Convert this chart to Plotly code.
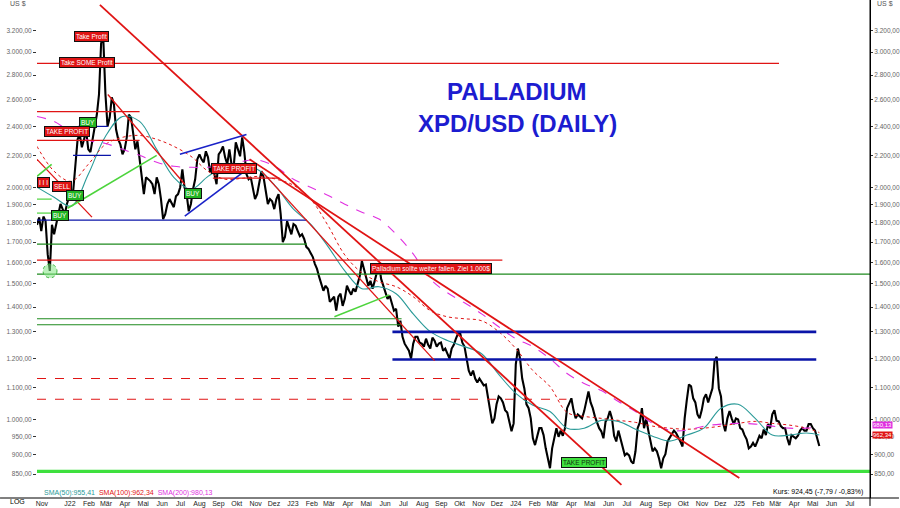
import plotly.graph_objects as go
import pandas as pd

# ---------------- data ----------------
START = "2021-11-16"
END = "2025-08-11"

# palladium price (US$) at the start of each week
PRICE_WEEK = [1790, 1757, 1810, 1560, 1740, 1848, 1876, 1905, 1933, 2145,
              2345, 2311, 2243, 2311, 2489, 3080, 2650, 2466, 2564, 2311,
              2210, 2325, 2466, 2243, 2177, 1962, 2051, 2021, 2063, 1933,
              1848, 1933, 1887, 1962, 2113, 1962, 1905, 2051, 2210, 2158,
              2190, 2145, 2021, 2230, 2190, 2243, 2126, 2243, 2325, 2082,
              2063, 1933, 2021, 2063, 1905, 1921, 1933, 1848, 1726, 1778,
              1794, 1757, 1740, 1676, 1646, 1593, 1532, 1470, 1479, 1435,
              1385, 1457, 1435, 1470, 1479, 1501, 1607, 1523, 1514, 1514,
              1593, 1492, 1435, 1414, 1393, 1344, 1255, 1229, 1255, 1281,
              1255, 1274, 1237, 1266, 1255, 1229, 1218, 1237, 1274, 1294,
              1244, 1158, 1158, 1118, 1121, 1111, 1029, 1004, 1072, 1053,
              1022, 966, 1180, 1200, 1098, 1035, 946, 953, 975, 918,
              865, 946, 950, 953, 1035, 1066, 1004, 1010, 1026, 1088,
              1035, 991, 966, 994, 1026, 953, 968, 918, 904, 883,
              910, 991, 975, 968, 910, 910, 865, 902, 946, 968,
              950, 923, 1060, 1105, 1053, 1004, 1066, 1053, 1098, 1207,
              1072, 966, 1026, 987, 1001, 971, 943, 923, 923, 953,
              971, 987, 1016, 997, 981, 975, 927, 950, 953, 975,
              968, 987, 968, 924.45]

# price read in the middle of each week
PRICE_MID = [1830, 1835, 1640, 1790, 1800, 1905, 1848, 1944, 1991, 2311,
             2257, 2366, 2224, 2394, 2642, 3130, 2402, 2620, 2380, 2276,
             2243, 2489, 2352, 2297, 2082, 2063, 2040, 1962, 2021, 1821,
             1905, 1905, 1950, 2003, 2003, 1864, 1991, 2177, 2177, 2230,
             2094, 2082, 2210, 2263, 2145, 2145, 2290, 2197, 2224, 2051,
             1991, 1962, 2101, 1979, 1933, 1876, 1962, 1700, 1810, 1740,
             1785, 1730, 1716, 1666, 1627, 1569, 1501, 1492, 1422, 1444,
             1444, 1405, 1492, 1453, 1466, 1536, 1569, 1492, 1479, 1560,
             1523, 1457, 1448, 1385, 1321, 1281, 1244, 1200, 1281, 1259,
             1244, 1251, 1278, 1244, 1259, 1237, 1200, 1251, 1294, 1259,
             1193, 1141, 1131, 1131, 1108, 1066, 989, 1047, 1066, 1029,
             995, 989, 1237, 1131, 1047, 1004, 927, 975, 955, 886,
             918, 975, 968, 975, 1053, 1029, 1016, 1004, 1060, 1053,
             1010, 975, 946, 1004, 1004, 937, 946, 899, 899, 877,
             975, 1035, 1004, 937, 918, 891, 891, 937, 955, 961,
             937, 1004, 1111, 1066, 1016, 1029, 1079, 1079, 1193, 1098,
             989, 1004, 1004, 1004, 975, 955, 918, 933, 937, 946,
             955, 975, 1029, 995, 975, 946, 955, 946, 968, 968,
             987, 975, 946]

# moving averages, read every 4th week (+ last value)
SMA50 = [2003, 1944, 1893, 2082, 2331, 2474, 2438, 2243, 2063, 1991,
         2069, 2132, 2145, 2106, 2003, 1876, 1794, 1680, 1560, 1479,
         1488, 1457, 1372, 1301, 1267, 1244, 1218, 1145, 1082, 1044,
         1025, 975, 975, 998, 995, 972, 952, 938, 955, 975,
         1035, 1047, 1004, 955, 955, 961, 955.41]
SMA100 = [2263, 2101, 2039, 2145, 2276, 2325, 2338, 2311, 2263, 2197,
          2101, 2051, 2057, 2069, 2051, 2015, 1933, 1789, 1636, 1551,
          1510, 1488, 1444, 1385, 1360, 1352, 1344, 1301, 1237, 1158,
          1104, 1022, 1010, 1004, 998, 992, 981, 975, 972, 975,
          981, 989, 995, 989, 984, 975, 962.34]
SMA200 = [2474, 2438, 2359, 2304, 2283, 2243, 2203, 2158, 2132, 2126,
          2126, 2139, 2164, 2171, 2126, 2051, 2003, 1956, 1904, 1859,
          1821, 1741, 1641, 1523, 1461, 1418, 1372, 1320, 1274, 1244,
          1200, 1148, 1114, 1091, 1056, 1025, 989, 969, 969, 981,
          987, 989, 987, 981, 975, 975, 980.13]

# horizontal levels
RED_LEVELS = [2900, 2511, 2304, 2058, 1611]
RED_FROM = [START, START, START, "2022-08-31", START]
RED_TO = ["2025-03-15", "2022-05-03", "2022-05-03", "2022-12-18", "2023-12-18"]

RED_DASH_LEVELS = [1131, 1063]
RED_DASH_FROM = [START, START]
RED_DASH_TO = ["2023-10-09", "2024-04-01"]

BLUE_LEVELS = [2402, 2203, 1815]
BLUE_FROM = ["2022-01-22", "2022-01-14", START]
BLUE_TO = ["2022-03-12", "2022-03-17", "2023-02-01"]

BLUE_RANGE_LEVELS = [1300, 1197]
BLUE_RANGE_FROM = ["2023-06-21", "2023-06-21"]
BLUE_RANGE_TO = ["2025-05-15", "2025-05-15"]

GREEN_LEVELS = [1690, 1545, 1352, 1328]
GREEN_FROM = [START, START, START, START]
GREEN_TO = ["2023-02-01", END, "2023-07-06", "2023-07-06"]

LIME_LEVELS = [1933, 1854]
LIME_FROM = [START, START]
LIME_TO = ["2021-12-10", "2021-12-10"]

SUPPORT_LEVEL = 857

# trend lines (start date, start price, end date, end price)
RED_TREND_X0 = ["2022-02-27", "2022-10-30", "2022-11-19", "2022-03-12", START]
RED_TREND_Y0 = [3453, 2177, 2100, 2642, 2177]
RED_TREND_X1 = ["2024-06-30", "2025-01-09", "2023-08-29", "2022-07-16", "2022-02-14"]
RED_TREND_Y1 = [823, 840, 1193, 2021, 1832]

LIME_TREND_X0 = [START, "2022-01-05", "2023-03-18"]
LIME_TREND_Y0 = [2069, 1881, 1360]
LIME_TREND_X1 = ["2021-12-10", "2022-05-31", "2023-06-16"]
LIME_TREND_Y1 = [2145, 2203, 1452]

BLUE_TREND_X0 = ["2022-07-08", "2022-07-16"]
BLUE_TREND_Y0 = [2210, 1837]
BLUE_TREND_X1 = ["2022-10-25", "2022-10-22"]
BLUE_TREND_Y1 = [2345, 2101]

Y_TICKS = [850, 900, 950, 1000, 1100, 1200, 1300, 1400, 1500, 1600,
           1700, 1800, 1900, 2000, 2200, 2400, 2600, 2800, 3000, 3200]
Y_TICK_TEXT = ["850,00", "900,00", "950,00", "1.000,00", "1.100,00", "1.200,00",
               "1.300,00", "1.400,00", "1.500,00", "1.600,00", "1.700,00",
               "1.800,00", "1.900,00", "2.000,00", "2.200,00", "2.400,00",
               "2.600,00", "2.800,00", "3.000,00", "3.200,00"]

MONTH_STARTS = ["2021-11-16",
                "2022-01-01", "2022-02-01", "2022-03-01", "2022-04-01", "2022-05-01", "2022-06-01",
                "2022-07-01", "2022-08-01", "2022-09-01", "2022-10-01", "2022-11-01", "2022-12-01",
                "2023-01-01", "2023-02-01", "2023-03-01", "2023-04-01", "2023-05-01", "2023-06-01",
                "2023-07-01", "2023-08-01", "2023-09-01", "2023-10-01", "2023-11-01", "2023-12-01",
                "2024-01-01", "2024-02-01", "2024-03-01", "2024-04-01", "2024-05-01", "2024-06-01",
                "2024-07-01", "2024-08-01", "2024-09-01", "2024-10-01", "2024-11-01", "2024-12-01",
                "2025-01-01", "2025-02-01", "2025-03-01", "2025-04-01", "2025-05-01", "2025-06-01",
                "2025-07-01"]
MONTH_LABELS = ["Nov",
                "J22", "Feb", "Mär", "Apr", "Mai", "Jun", "Jul", "Aug", "Sep", "Okt", "Nov", "Dez",
                "J23", "Feb", "Mär", "Apr", "Mai", "Jun", "Jul", "Aug", "Sep", "Okt", "Nov", "Dez",
                "J24", "Feb", "Mär", "Apr", "Mai", "Jun", "Jul", "Aug", "Sep", "Okt", "Nov", "Dez",
                "J25", "Feb", "Mär", "Apr", "Mai", "Jun", "Jul"]

# ---------------- styling ----------------
FONT = "Liberation Sans, Arial, sans-serif"
RED = "#e01414"
BLUE = "#1a22c8"
NAVY = "#0a14a8"
DKGREEN = "#1e8a1e"
LIME = "#4cd43c"
TEAL = "#2a9a98"
MAGENTA = "#e030e0"

L, R, T, B = 37, 29, 0, 8
W, H = 900, 508
PW, PH = W - L - R, H - T - B


def px(x):
    return (x - L) / PW


def py(y):
    return 1 - (y - T) / PH


week_dates = pd.date_range(START, periods=len(PRICE_WEEK), freq="7D")
mid_dates = week_dates[:len(PRICE_MID)] + pd.Timedelta(hours=84)
px_dates, px_vals = [], []
for i, d in enumerate(week_dates):
    px_dates.append(d)
    px_vals.append(PRICE_WEEK[i])
    if i < len(PRICE_MID):
        px_dates.append(mid_dates[i])
        px_vals.append(PRICE_MID[i])

ma_dates = list(week_dates[0:181:4]) + [week_dates[-1]]

fig = go.Figure()


def seg(x0, x1, y0, y1, color, width, dash="solid"):
    fig.add_trace(go.Scatter(x=[x0, x1], y=[y0, y1], mode="lines",
                             line=dict(color=color, width=width, dash=dash),
                             hoverinfo="skip", showlegend=False))


# price
fig.add_trace(go.Scatter(x=px_dates, y=px_vals, mode="lines",
                         line=dict(color="black", width=2.1), showlegend=False))

# moving averages
fig.add_trace(go.Scatter(x=ma_dates, y=SMA50, mode="lines", line_shape="spline",
                         line=dict(color=TEAL, width=1.1), showlegend=False))
fig.add_trace(go.Scatter(x=ma_dates, y=SMA100, mode="lines", line_shape="spline",
                         line=dict(color=RED, width=1, dash="dot"), showlegend=False))
fig.add_trace(go.Scatter(x=ma_dates, y=SMA200, mode="lines", line_shape="spline",
                         line=dict(color=MAGENTA, width=1.1, dash="dash"), showlegend=False))

# levels
for v, a, b in zip(RED_LEVELS, RED_FROM, RED_TO):
    seg(a, b, v, v, RED, 1.2)
for v, a, b in zip(RED_DASH_LEVELS, RED_DASH_FROM, RED_DASH_TO):
    seg(a, b, v, v, RED, 1, "dash")
for v, a, b in zip(BLUE_LEVELS, BLUE_FROM, BLUE_TO):
    seg(a, b, v, v, NAVY, 1.2)
for v, a, b in zip(BLUE_RANGE_LEVELS, BLUE_RANGE_FROM, BLUE_RANGE_TO):
    seg(a, b, v, v, NAVY, 2.6)
for v, a, b in zip(GREEN_LEVELS, GREEN_FROM, GREEN_TO):
    seg(a, b, v, v, DKGREEN, 1.2)
for v, a, b in zip(LIME_LEVELS, LIME_FROM, LIME_TO):
    seg(a, b, v, v, LIME, 1.2)
seg(START, END, SUPPORT_LEVEL, SUPPORT_LEVEL, "#3ee03e", 3.2)

# trend lines
for i, (a, ya, b, yb) in enumerate(zip(RED_TREND_X0, RED_TREND_Y0, RED_TREND_X1, RED_TREND_Y1)):
    seg(a, b, ya, yb, RED, 1.8 if i < 2 else 1.3)
for a, ya, b, yb in zip(LIME_TREND_X0, LIME_TREND_Y0, LIME_TREND_X1, LIME_TREND_Y1):
    seg(a, b, ya, yb, LIME, 1.6)
for a, ya, b, yb in zip(BLUE_TREND_X0, BLUE_TREND_Y0, BLUE_TREND_X1, BLUE_TREND_Y1):
    seg(a, b, ya, yb, BLUE, 1.6)

# dummy trace for right axis
fig.add_trace(go.Scatter(x=[week_dates[-1]], y=[PRICE_WEEK[-1]], yaxis="y2", mode="markers",
                         marker=dict(opacity=0), hoverinfo="skip", showlegend=False))

YR = [2.8984, 3.5446]
tick_dates = [pd.Timestamp(d) + pd.Timedelta(days=8) for d in MONTH_STARTS]

fig.update_layout(
    width=W, height=H, margin=dict(l=L, r=R, t=T, b=B, pad=0),
    plot_bgcolor="white", paper_bgcolor="white", showlegend=False,
    font=dict(family=FONT, size=7, color="black"),
    xaxis=dict(type="date", range=[START, END], tickvals=tick_dates, ticktext=MONTH_LABELS,
               showgrid=False, zeroline=False, showline=False, ticks="",
               tickfont=dict(size=7, color="#222"), tickangle=0),
    yaxis=dict(type="log", range=YR, tickvals=Y_TICKS, ticktext=Y_TICK_TEXT,
               showgrid=False, zeroline=False, showline=False, ticks="outside",
               ticklen=3, tickcolor="#333", tickfont=dict(size=6.5, color="#666")),
    yaxis2=dict(type="log", range=YR, tickvals=Y_TICKS, ticktext=Y_TICK_TEXT,
                overlaying="y", side="right", showgrid=False, zeroline=False,
                showline=True, linecolor="black", linewidth=1, ticks="outside",
                ticklen=2, tickcolor="#333", tickfont=dict(size=6.5, color="#666")),
)

shapes = [
    dict(type="line", xref="paper", yref="paper", x0=px(0), x1=px(900), y0=py(500), y1=py(500),
         line=dict(color="black", width=1)),
    dict(type="line", xref="paper", yref="paper", x0=1, x1=1, y0=py(508), y1=1,
         line=dict(color="black", width=1)),
    dict(type="circle", xref="paper", yref="paper", x0=px(43), x1=px(57), y0=py(279), y1=py(265),
         fillcolor="rgba(130,230,130,0.55)", line=dict(color="#3cb43c", width=1, dash="dot")),
]
fig.update_layout(shapes=shapes)

ann = []


def box(x, y, text, bg, fg="white"):
    ann.append(dict(x=px(x), y=py(y), xref="paper", yref="paper", text=text, showarrow=False,
                    font=dict(family=FONT, size=6.5, color=fg), bgcolor=bg,
                    bordercolor="#111", borderwidth=1, borderpad=1,
                    xanchor="center", yanchor="middle"))


box(92, 36.5, "Take Profit", RED)
box(87, 62.5, "Take SOME Profit", RED)
box(88, 122.5, "BUY", "#22b422")
box(67, 132.5, "TAKE PROFIT", RED)
box(44, 183, "I I I", RED)
box(62.5, 187.5, "SELL", RED)
box(75.5, 196, "BUY", "#22b422")
box(60, 216, "BUY", "#22b422")
box(193.5, 194.5, "BUY", "#22b422")
box(234, 169, "TAKE PROFIT", RED)
box(431.5, 269.5, "Palladium sollte weiter fallen. Ziel 1.000$", RED)
box(584.5, 464.5, "TAKE PROFIT", "#3ee03e", "#113311")

# title
ann.append(dict(x=px(518), y=py(92), xref="paper", yref="paper", text="<b>PALLADIUM</b>",
                showarrow=False, font=dict(family=FONT, size=24, color="#1c1cd0"),
                xanchor="center", yanchor="middle"))
ann.append(dict(x=px(518), y=py(124), xref="paper", yref="paper", text="<b>XPD/USD (DAILY)</b>",
                showarrow=False, font=dict(family=FONT, size=24, color="#1c1cd0"),
                xanchor="center", yanchor="middle"))

# small texts
ann.append(dict(x=px(8), y=py(4), xref="paper", yref="paper", text="US $", showarrow=False,
                font=dict(size=7, color="#555"), xanchor="left", yanchor="middle"))
ann.append(dict(x=px(876), y=py(4), xref="paper", yref="paper", text="US $", showarrow=False,
                font=dict(size=7, color="#555"), xanchor="left", yanchor="middle"))
ann.append(dict(x=px(17), y=py(504), xref="paper", yref="paper", text="LOG", showarrow=False,
                font=dict(size=7, color="black"), xanchor="center", yanchor="middle"))
ann.append(dict(x=px(42), y=py(495), xref="paper", yref="paper", showarrow=False,
                text="<span style='color:%s'>SMA(50):955,41</span>  "
                     "<span style='color:%s'>SMA(100):962,34</span>  "
                     "<span style='color:%s'>SMA(200):980,13</span>" % (TEAL, RED, MAGENTA),
                font=dict(size=7), xanchor="left", yanchor="middle"))
ann.append(dict(x=px(866), y=py(494), xref="paper", yref="paper",
                text="Kurs: 924,45 (-7,79 / -0,83%)", showarrow=False,
                font=dict(size=7, color="black"), xanchor="right", yanchor="middle"))
ann.append(dict(x=px(873), y=py(427), xref="paper", yref="paper", text="980,13",
                showarrow=False, font=dict(size=6, color="white"), bgcolor=MAGENTA,
                xanchor="left", yanchor="middle", borderpad=0))
ann.append(dict(x=px(873), y=py(437), xref="paper", yref="paper", text="962,34",
                showarrow=False, font=dict(size=6, color="white"), bgcolor=RED,
                xanchor="left", yanchor="middle", borderpad=0))
fig.update_layout(annotations=ann)

fig.write_html("out.html", config={"displayModeBar": False},
               post_script="document.body.style.margin='0px';")
